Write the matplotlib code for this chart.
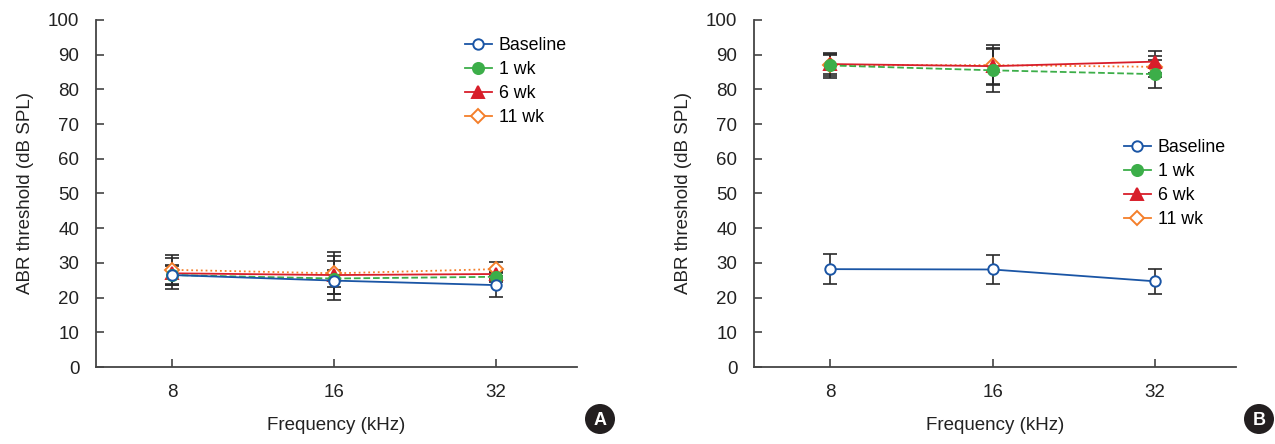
import matplotlib
matplotlib.use("Agg")
import matplotlib.pyplot as plt
from matplotlib.patches import Ellipse
from matplotlib.lines import Line2D

plt.rcParams['font.family'] = ['Liberation Sans', 'DejaVu Sans']

freqs = ['8', '16', '32']
xpos = [1, 2, 3]
labels = ['Baseline', '1 wk', '6 wk', '11 wk']

# panel A
a_base = [26.5, 24.9, 23.6]
a_base_sd = [2.5, 5.7, 3.4]
a_1wk = [26.5, 25.5, 26.0]
a_1wk_sd = [3.0, 2.4, 1.5]
a_6wk = [27.0, 26.5, 26.8]
a_6wk_sd = [4.5, 5.5, 1.5]
a_11wk = [28.0, 27.0, 28.2]
a_11wk_sd = [4.3, 6.0, 2.1]

# panel B
b_base = [28.2, 28.1, 24.7]
b_base_sd = [4.4, 4.2, 3.6]
b_1wk = [86.9, 85.5, 84.4]
b_1wk_sd = [3.5, 6.2, 4.1]
b_6wk = [87.3, 86.7, 88.0]
b_6wk_sd = [3.0, 5.1, 3.2]
b_11wk = [87.0, 87.0, 86.5]
b_11wk_sd = [3.0, 5.8, 3.0]

styles = [
    dict(color='#1a55a5', ls='-', marker='o', mfc='white', mec='#1a55a5', ms=7.5),
    dict(color='#3cae49', ls='--', marker='o', mfc='#3cae49', mec='#3cae49', ms=8),
    dict(color='#d81e2a', ls='-', marker='^', mfc='#d81e2a', mec='#d81e2a', ms=8),
    dict(color='#f47f2a', ls=':', marker='D', mfc='white', mec='#f47f2a', ms=7),
]

fig = plt.figure(figsize=(12.75, 4.44), dpi=100)
ax1 = fig.add_axes([96/1275, 1-367/444, (577-96)/1275, 347/444])
ax2 = fig.add_axes([754/1275, 1-367/444, (1236-754)/1275, 347/444])

def draw(ax, series, sds, legend_loc):
    for y, sd in zip(series, sds):
        ax.errorbar(xpos, y, yerr=sd, fmt='none', ecolor='#2a2a2a', elinewidth=1.2,
                    capsize=5, capthick=1.2, zorder=1)
    # baseline drawn last so it sits on top
    for i, (y, st) in enumerate(zip(series, styles)):
        ax.plot(xpos, y, lw=1.3, mew=1.4, zorder=6 - i, **st)
    # legend shows solid lines for every series
    handles = []
    for st, lab in zip(styles, labels):
        s = dict(st)
        s['ls'] = '-'
        handles.append(Line2D([], [], lw=1.3, mew=1.4, label=lab, **s))
    ax.set_xlim(0.53, 3.5)
    ax.set_ylim(0, 100)
    ax.set_yticks(range(0, 101, 10))
    ax.set_xticks(xpos)
    ax.set_xticklabels(freqs)
    for s in ['top', 'right']:
        ax.spines[s].set_visible(False)
    for s in ['left', 'bottom']:
        ax.spines[s].set_color('#444444')
        ax.spines[s].set_linewidth(1.3)
    ax.tick_params(axis='both', direction='in', length=6, width=1.2, color='#444444',
                   labelsize=13.5, labelcolor='#222222')
    ax.tick_params(axis='y', pad=12)
    ax.tick_params(axis='x', pad=12)
    ax.set_xlabel('Frequency (kHz)', fontsize=13.5, color='#222222', labelpad=12)
    ax.set_ylabel('ABR threshold (dB SPL)', fontsize=13.5, color='#222222', labelpad=10)
    ax.legend(handles=handles, loc='upper left', bbox_to_anchor=legend_loc, frameon=False,
              fontsize=12.8, handlelength=1.5, handletextpad=0.4, labelspacing=0.4,
              borderaxespad=0)

draw(ax1, [a_base, a_1wk, a_6wk, a_11wk], [a_base_sd, a_1wk_sd, a_6wk_sd, a_11wk_sd],
     ((458-96)/481, 1-(30-20)/347))
draw(ax2, [b_base, b_1wk, b_6wk, b_11wk], [b_base_sd, b_1wk_sd, b_6wk_sd, b_11wk_sd],
     ((1117-754)/482, 1-(132-20)/347))

for cx, lab in [(600, 'A'), (1259, 'B')]:
    fig.patches.append(Ellipse((cx/1275, 1-419/444), 30/1275, 30/444, transform=fig.transFigure,
                               facecolor='#231f20', edgecolor='none'))
    fig.text(cx/1275, 1-420/444, lab, color='white', fontsize=13, fontweight='bold',
             ha='center', va='center')

fig.savefig('out.png', dpi=100)
